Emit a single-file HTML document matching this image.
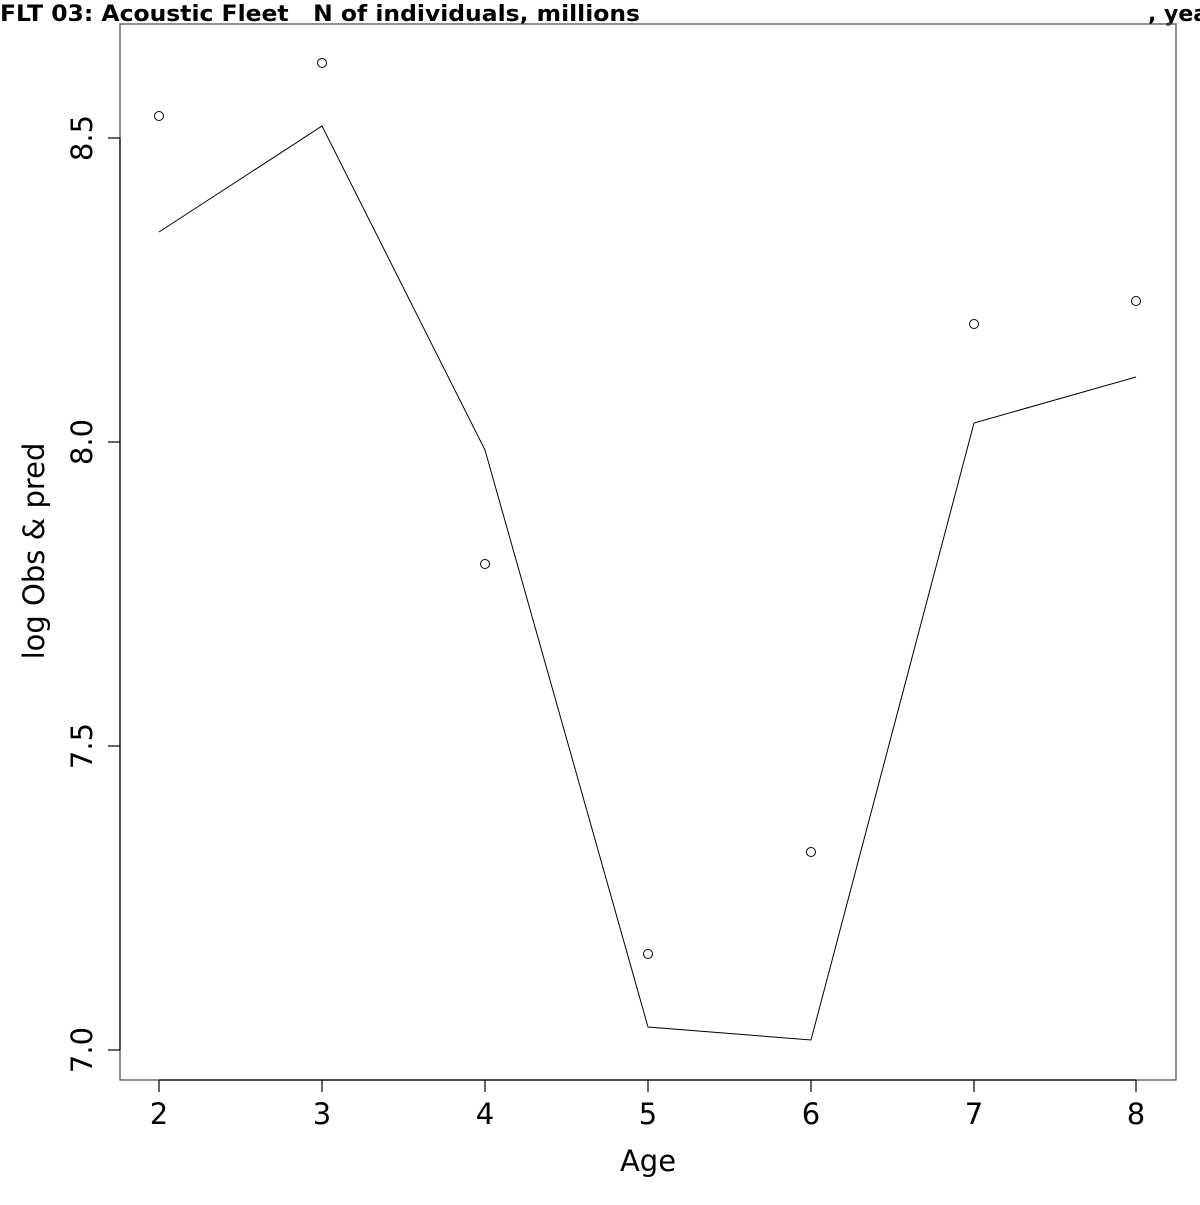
<!DOCTYPE html>
<html><head><style>html,body{margin:0;padding:0;background:#fff}</style></head>
<body>
<svg width="1200" height="1200" viewBox="0 0 1200 1200" xmlns="http://www.w3.org/2000/svg" font-family="DejaVu Sans, Liberation Sans, sans-serif">
<rect width="1200" height="1200" fill="#fff"/>
<text x="0" y="21" font-size="22" font-weight="bold" textLength="640" lengthAdjust="spacingAndGlyphs" xml:space="preserve">FLT 03: Acoustic Fleet   N of individuals, millions</text>
<text x="1148" y="21" font-size="22" font-weight="bold">, year</text>
<rect x="120" y="24" width="1056" height="1056" fill="none" stroke="#555" stroke-width="1.3"/>
<g stroke="#000" stroke-width="1.2">
<line x1="159" y1="1080" x2="1136" y2="1080"/>
<line x1="159" y1="1080" x2="159" y2="1092"/><line x1="322" y1="1080" x2="322" y2="1092"/><line x1="485" y1="1080" x2="485" y2="1092"/><line x1="648" y1="1080" x2="648" y2="1092"/><line x1="811" y1="1080" x2="811" y2="1092"/><line x1="974" y1="1080" x2="974" y2="1092"/><line x1="1136" y1="1080" x2="1136" y2="1092"/>
<line x1="120" y1="138" x2="120" y2="1050"/>
<line x1="108" y1="138" x2="120" y2="138"/><line x1="108" y1="442" x2="120" y2="442"/><line x1="108" y1="746" x2="120" y2="746"/><line x1="108" y1="1050" x2="120" y2="1050"/>
</g>
<g font-size="29" text-anchor="middle">
<text x="159" y="1124">2</text><text x="322" y="1124">3</text><text x="485" y="1124">4</text><text x="648" y="1124">5</text><text x="811" y="1124">6</text><text x="974" y="1124">7</text><text x="1136" y="1124">8</text>
<text x="648" y="1171">Age</text>
<text transform="translate(92,138) rotate(-90)">8.5</text>
<text transform="translate(92,442) rotate(-90)">8.0</text>
<text transform="translate(92,746) rotate(-90)">7.5</text>
<text transform="translate(92,1050) rotate(-90)">7.0</text>
<text transform="translate(44,551) rotate(-90)">log Obs &amp; pred</text>
</g>
<polyline points="159,232 322,126 485,450 648,1027 811,1040 974,423 1136,377" fill="none" stroke="#000" stroke-width="1"/>
<g fill="none" stroke="#000" stroke-width="1">
<circle cx="159" cy="116" r="4.5"/><circle cx="322" cy="63" r="4.5"/><circle cx="485" cy="564" r="4.5"/><circle cx="648" cy="954" r="4.5"/><circle cx="811" cy="852" r="4.5"/><circle cx="974" cy="324" r="4.5"/><circle cx="1136" cy="301" r="4.5"/>
</g>
</svg>
</body></html>
